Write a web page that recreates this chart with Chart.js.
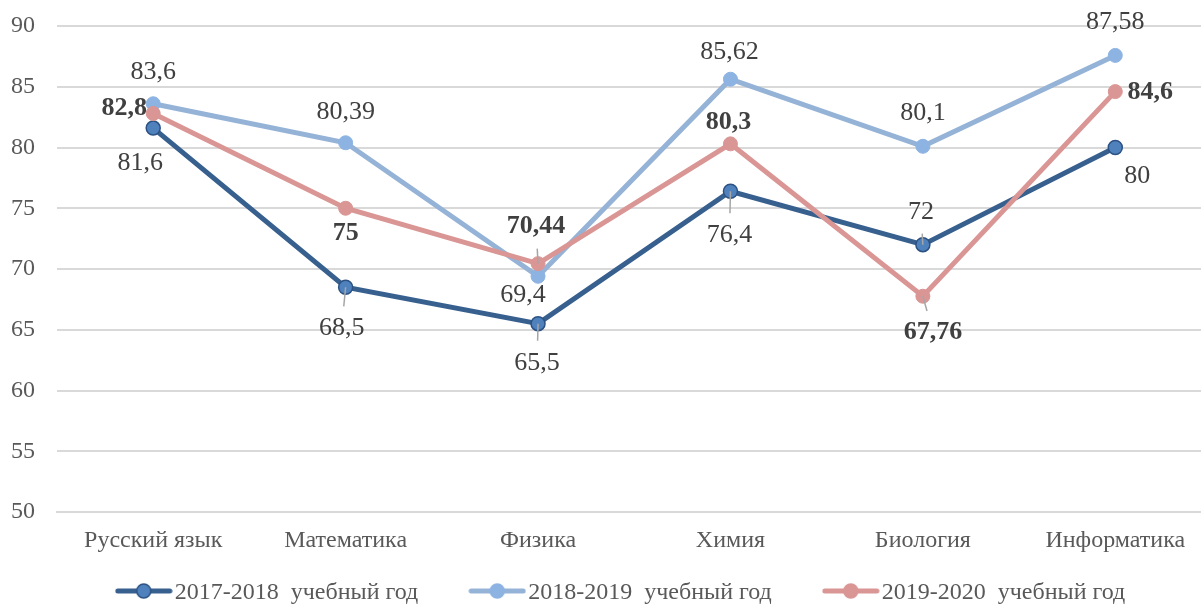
<!DOCTYPE html>
<html>
<head>
<meta charset="utf-8">
<script src="https://cdn.jsdelivr.net/npm/chart.js@4"></script>
<style>
    html, body { margin: 0; padding: 0; background: #fff; overflow: hidden; }
    #wrap { width: 1220px; height: 604px; }
</style>
</head>
<body>
<div id="wrap"><canvas id="resultsChart" width="1220" height="604"></canvas></div>
<script>
// Средний балл по предметам
const subjects = ['Русский язык', 'Математика', 'Физика', 'Химия', 'Биология', 'Информатика'];
const years = ['2017-2018  учебный год', '2018-2019  учебный год', '2019-2020  учебный год'];
const scores2017 = [81.6, 68.5, 65.5, 76.4, 72, 80];
const scores2018 = [83.6, 80.39, 69.4, 85.62, 80.1, 87.58];
const scores2019 = [82.8, 75, 70.44, 80.3, 67.76, 84.6];
const yTicks = [50, 55, 60, 65, 70, 75, 80, 85, 90];

const serif = '"Liberation Serif", "Times New Roman", serif';

// small line+circle image for legend
function legendMarker(lineColor, fill, border) {
    const c = document.createElement('canvas');
    c.width = 58;
    c.height = 18;
    const ctx = c.getContext('2d');
    ctx.strokeStyle = lineColor;
    ctx.lineWidth = 5;
    ctx.lineCap = 'round';
    ctx.beginPath();
    ctx.moveTo(3, 9);
    ctx.lineTo(55, 9);
    ctx.stroke();
    ctx.beginPath();
    ctx.arc(29, 9, 7, 0, Math.PI * 2);
    ctx.fillStyle = fill;
    ctx.fill();
    ctx.lineWidth = 1.5;
    ctx.strokeStyle = border;
    ctx.stroke();
    return c;
}

function fmt(v) {
    return String(v).replace('.', ',');
}

// value labels next to points, with thin leader lines where Excel drew them
const pointLabels = {
    id: 'pointLabels',
    afterDatasetsDraw(chart) {
        const ctx = chart.ctx;
        chart.data.datasets.forEach((ds, i) => {
            const meta = chart.getDatasetMeta(i);
            meta.data.forEach((pt, j) => {
                const off = ds.labelOffsets[j];
                const lx = pt.x + off[0];
                const ly = pt.y + off[1];
                if (ds.leaders[j]) {
                    const dist = Math.hypot(off[0], off[1]);
                    const len = Math.max(dist - 22, 8);
                    ctx.save();
                    ctx.strokeStyle = '#a6a6a6';
                    ctx.lineWidth = 1.5;
                    ctx.beginPath();
                    ctx.moveTo(pt.x, pt.y);
                    ctx.lineTo(pt.x + off[0] / dist * len, pt.y + off[1] / dist * len);
                    ctx.stroke();
                    ctx.restore();
                }
                ctx.save();
                ctx.font = (ds.labelBold ? 'bold ' : '') + '26px ' + serif;
                ctx.fillStyle = '#404040';
                ctx.textAlign = 'center';
                ctx.textBaseline = 'middle';
                ctx.fillText(fmt(ds.data[j]), lx, ly);
                ctx.restore();
            });
        });
    }
};

// legend row under the axis, Excel style (line with marker, then text)
const bottomLegend = {
    id: 'bottomLegend',
    afterDraw(chart, args, opts) {
        const ctx = chart.ctx;
        ctx.save();
        ctx.font = '24px ' + serif;
        ctx.textBaseline = 'middle';
        ctx.textAlign = 'left';
        const items = chart.data.datasets.map(ds => ({
            img: ds.legendImg,
            text: ds.label,
            w: ds.legendImg.width + opts.textGap + ctx.measureText(ds.label).width
        }));
        const total = items.reduce((s, it) => s + it.w, 0) + opts.itemGap * (items.length - 1);
        let x = opts.centerX - total / 2;
        items.forEach(it => {
            ctx.drawImage(it.img, x, opts.y - 2 - it.img.height / 2);
            ctx.fillStyle = '#595959';
            ctx.fillText(it.text, x + it.img.width + opts.textGap, opts.y);
            x += it.w + opts.itemGap;
        });
        ctx.restore();
    }
};

const ctx = document.getElementById('resultsChart').getContext('2d');
const resultsChart = new Chart(ctx, {
    type: 'line',
    data: {
        labels: subjects,
        datasets: [
            {
                label: years[0],
                data: scores2017,
                borderColor: '#37608f',
                backgroundColor: '#4f81bd',
                pointBackgroundColor: '#4f81bd',
                pointBorderColor: '#2c5283',
                pointBorderWidth: 1.5,
                borderWidth: 5,
                pointRadius: 7,
                order: 3,
                legendImg: legendMarker('#37608f', '#4f81bd', '#2c5283'),
                labelBold: false,
                labelOffsets: [[-13, 35], [-4, 41], [-1, 39], [-1, 44], [-2, -33], [22, 29]],
                leaders: [false, true, true, true, true, false]
            },
            {
                label: years[1],
                data: scores2018,
                borderColor: '#95b3d7',
                backgroundColor: '#8db3e2',
                pointBackgroundColor: '#8db3e2',
                pointBorderColor: '#8db3e2',
                pointBorderWidth: 1,
                borderWidth: 5,
                pointRadius: 7,
                order: 2,
                legendImg: legendMarker('#95b3d7', '#8db3e2', '#8db3e2'),
                labelBold: false,
                labelOffsets: [[0, -32], [0, -31], [-15, 19], [-1, -27], [0, -33], [0, -33]],
                leaders: [false, false, false, false, false, false]
            },
            {
                label: years[2],
                data: scores2019,
                borderColor: '#d99694',
                backgroundColor: '#d99694',
                pointBackgroundColor: '#d99694',
                pointBorderColor: '#d99694',
                pointBorderWidth: 1,
                borderWidth: 5,
                pointRadius: 7,
                order: 1,
                legendImg: legendMarker('#d99694', '#d99694', '#d99694'),
                labelBold: true,
                labelOffsets: [[-29, -5], [0, 25], [-2, -37], [-2, -22], [10, 36], [35, 1]],
                leaders: [false, false, true, false, true, false]
            }
        ]
    },
    options: {
        responsive: false,
        animation: false,
        layout: { padding: { top: 26, right: 0, bottom: 49, left: 0 } },
        plugins: {
            tooltip: { enabled: false },
            legend: { display: false },
            bottomLegend: { centerX: 620, y: 593, textGap: 2, itemGap: 50 }
        },
        scales: {
            x: {
                offset: true,
                grid: { display: false, drawTicks: false },
                border: { display: true, color: '#d9d9d9', width: 2 },
                afterFit(scale) {
                    scale.height = 43;
                    scale.paddingLeft = 0;
                    scale.paddingRight = 0;
                },
                ticks: {
                    color: '#595959',
                    padding: 14,
                    font: { family: serif, size: 24 }
                }
            },
            y: {
                min: 50,
                max: 90,
                afterBuildTicks(scale) {
                    scale.ticks = yTicks.map(v => ({ value: v }));
                },
                afterFit(scale) {
                    scale.width = 57;
                    scale.paddingTop = 0;
                    scale.paddingBottom = 0;
                },
                grid: { color: '#d9d9d9', lineWidth: 2, drawTicks: false },
                border: { display: false },
                ticks: {
                    color: '#595959',
                    padding: 22,
                    font: { family: serif, size: 24 }
                }
            }
        }
    },
    plugins: [pointLabels, bottomLegend]
});
</script>
</body>
</html>
